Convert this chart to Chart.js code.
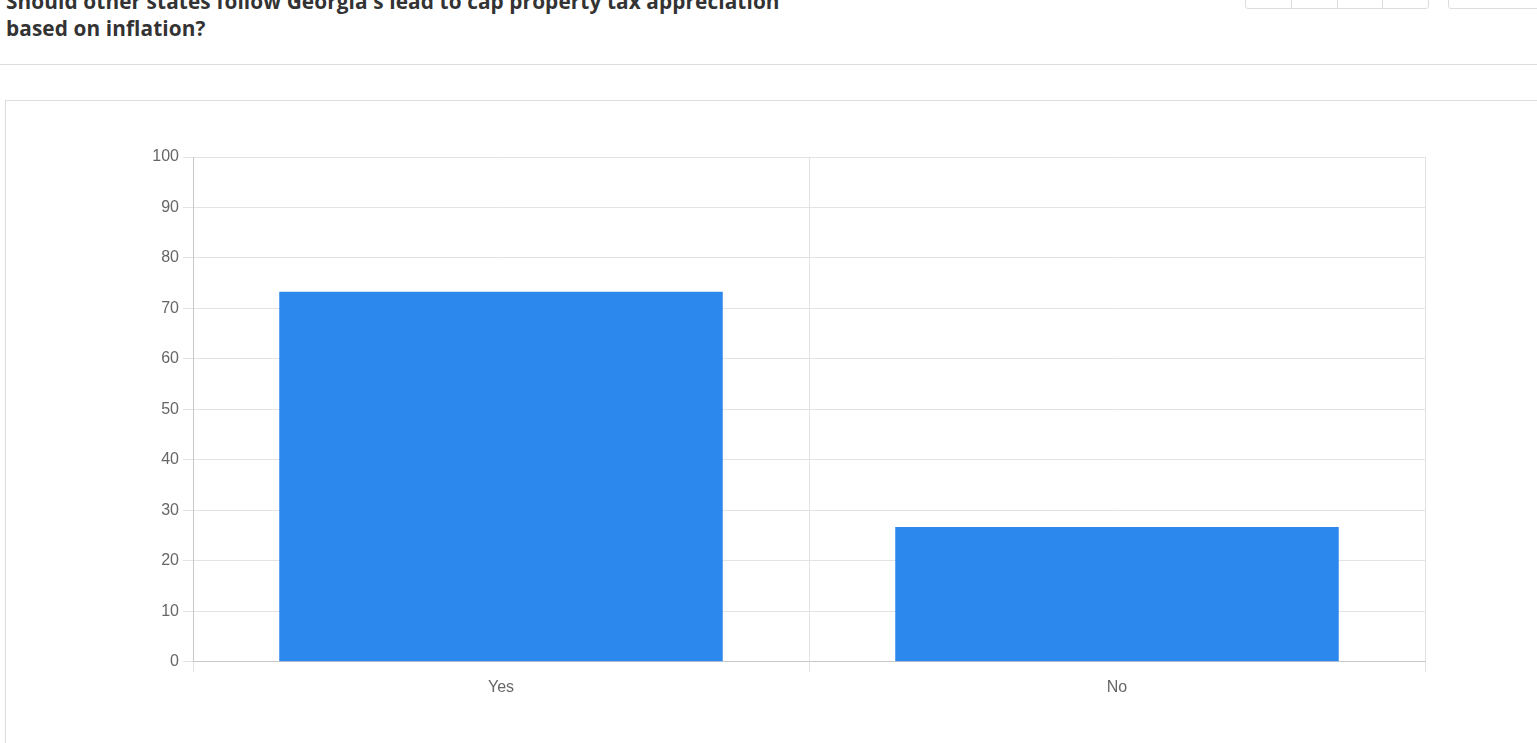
<!DOCTYPE html>
<html><head><meta charset="utf-8">
<script src="https://cdn.jsdelivr.net/npm/chart.js@4"></script>
<style>
html,body{margin:0;padding:0;background:#fff;overflow:hidden;width:1537px;height:743px;position:relative}
#title{position:absolute;left:6px;top:-12px;font-family:"Open Sans";font-weight:700;font-size:20.8px;line-height:27px;color:#333;letter-spacing:0.1px;width:900px}
#hr{position:absolute;left:0;top:64px;width:1537px;border-top:1px solid #ddd}
#panel{position:absolute;left:5px;top:100px;width:1540px;height:700px;border:1px solid #ddd;box-sizing:border-box}
.btns{position:absolute;top:-6px;height:13px;border:1px solid #ddd;border-radius:3px;display:flex}
.btns span{border-right:1px solid #ddd;flex:1}
.btns span:last-child{border-right:none}
#wrap{position:absolute;left:6px;top:101px;width:1423px;height:642px}
</style></head><body>
<div id="title">Should other states follow Georgia's lead to cap property tax appreciation<br>based on inflation?</div>
<div class="btns" style="left:1245px;width:182px"><span></span><span></span><span></span><span></span></div>
<div class="btns" style="left:1448px;width:100px"><span></span></div>
<div id="hr"></div>
<div id="panel"></div>
<div id="wrap"><canvas id="c"></canvas></div>
<script>
const categories = ["Yes", "No"];
const values = [73.3, 26.7];
const yTicks = [0,10,20,30,40,50,60,70,80,90,100];

new Chart(document.getElementById('c'), {
  type: 'bar',
  data: { labels: categories, datasets: [{ data: values, backgroundColor: '#2d88ee', borderWidth: 0 }] },
  options: {
    responsive: true, maintainAspectRatio: false, animation: false,
    layout: { padding: { top: 56, bottom: 40, left: 0, right: 4 } },
    plugins: { legend: { display: false }, tooltip: { enabled: false } },
    scales: {
      x: {
        grid: { color: '#e3e3e3', offset: true, tickLength: 10 },
        border: { color: '#c8c8c8' },
        ticks: { color: '#666', font: { family: 'Liberation Sans', size: 16 }, padding: 6 }
      },
      y: {
        min: yTicks[0], max: yTicks[yTicks.length-1],
        afterFit: a => { a.width = 187; },
        afterBuildTicks: a => { a.ticks = yTicks.map(v => ({ value: v })); },
        grid: { color: '#e3e3e3', tickLength: 10 },
        border: { color: '#c8c8c8' },
        ticks: { color: '#666', font: { family: 'Liberation Sans', size: 16 }, padding: 4 }
      }
    }
  }
});
</script>
</body></html>
